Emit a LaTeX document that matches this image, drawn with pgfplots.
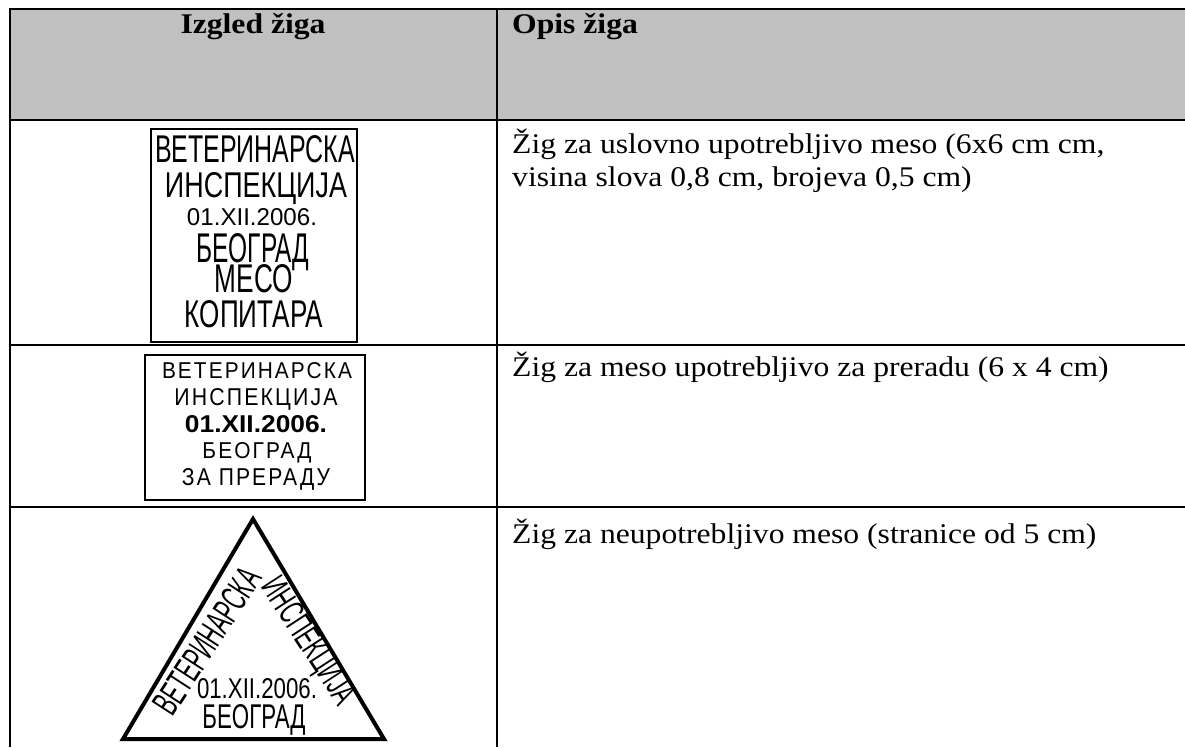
\documentclass[border=0pt]{standalone}
\usepackage{fontspec}
\setmainfont{Liberation Serif}
\newfontfamily\stampfont{Liberation Sans}
\newfontfamily\stampwide[LetterSpace=10]{Liberation Sans}
\usepackage{pgfplots}
\pgfplotsset{compat=1.18}
\definecolor{hdr}{HTML}{C0C0C0}
\newcommand{\stn}[3]{\resizebox{#1pt}{#2pt}{\stampfont #3}}
\newcommand{\stw}[3]{\resizebox{#1pt}{#2pt}{\stampwide #3}}
\newcommand{\stb}[3]{\resizebox{#1pt}{#2pt}{\stampfont\bfseries #3}}
\newcommand{\bt}[1]{\scalebox{1.11}[1]{\fontsize{28.5}{33}\selectfont #1}}
\begin{document}
\begin{tikzpicture}
\begin{axis}[
  scale only axis, width=1185pt, height=747pt,
  xmin=0, xmax=1185, ymin=0, ymax=747, y dir=reverse,
  hide axis, clip=true]
% full frame (invisible) so that the picture spans the whole area
\addplot[draw=none, forget plot] coordinates {(0,0) (1185,747)};
% header background
\addplot[fill=hdr, draw=none] coordinates {(10,9) (1185,9) (1185,120) (10,120)} -- cycle;
% table rules
\addplot[black, line width=2.7pt] coordinates {(8.65,9) (1185,9)};
\addplot[black, line width=2.7pt] coordinates {(10,9) (10,747)};
\addplot[black, line width=2.6pt] coordinates {(10,120) (1185,120)};
\addplot[black, line width=2.6pt] coordinates {(10,345) (1185,345)};
\addplot[black, line width=2.6pt] coordinates {(10,507) (1185,507)};
\addplot[black, line width=2.6pt] coordinates {(497,9) (497,747)};
% stamp boxes
\addplot[black, line width=2.8pt] coordinates {(151,129) (357,129) (357,342) (151,342)} -- cycle;
\addplot[black, line width=2.8pt] coordinates {(145,355) (365,355) (365,500) (145,500)} -- cycle;
% triangle
\addplot[black, line width=4pt, line join=miter] coordinates {(253,519) (384,739) (123,739)} -- cycle;

% header text
\node[anchor=base, inner sep=0] at (axis cs:253,33) {\bt{\bfseries Izgled žiga}};
\node[anchor=base west, inner sep=0] at (axis cs:512,33) {\bt{\bfseries Opis žiga}};
% descriptions
\node[anchor=base west, inner sep=0] at (axis cs:512,153) {\bt{Žig za uslovno upotrebljivo meso (6x6 cm cm,}};
\node[anchor=base west, inner sep=0] at (axis cs:512,186) {\bt{visina slova 0,8 cm, brojeva 0,5 cm)}};
\node[anchor=base west, inner sep=0] at (axis cs:512,376) {\bt{Žig za meso upotrebljivo za preradu (6 x 4 cm)}};
\node[anchor=base west, inner sep=0] at (axis cs:512,543) {\bt{Žig za neupotrebljivo meso (stranice od 5 cm)}};

% stamp 1
\node[anchor=base, inner sep=0] at (axis cs:255,162) {\stn{200}{27}{ВЕТЕРИНАРСКА}};
\node[anchor=base, inner sep=0] at (axis cs:256,197) {\stn{182}{25}{ИНСПЕКЦИЈА}};
\node[anchor=base, inner sep=0] at (axis cs:252,225) {\stn{130}{17}{01.XII.2006.}};
\node[anchor=base, inner sep=0] at (axis cs:253,262) {\stn{113}{29}{БЕОГРАД}};
\node[anchor=base, inner sep=0] at (axis cs:254,292) {\stn{78}{28}{МЕСО}};
\node[anchor=base, inner sep=0] at (axis cs:254,327) {\stn{138}{27}{КОПИТАРА}};

% stamp 2
\node[anchor=base, inner sep=0] at (axis cs:257,378) {\stw{190}{16}{ВЕТЕРИНАРСКА}};
\node[anchor=base, inner sep=0] at (axis cs:256,405) {\stw{163}{17}{ИНСПЕКЦИЈА}};
\node[anchor=base, inner sep=0] at (axis cs:256,432) {\stb{142}{17}{01.XII.2006.}};
\node[anchor=base, inner sep=0] at (axis cs:257,458) {\stw{109}{16}{БЕОГРАД}};
\node[anchor=base, inner sep=0] at (axis cs:256,485) {\stw{148}{17}{ЗА ПРЕРАДУ}};

% triangle stamp
\node[anchor=center, inner sep=0, rotate=57] at (axis cs:207,641) {\stn{166}{26}{ВЕТЕРИНАРСКА}};
\node[anchor=center, inner sep=0, rotate=-57] at (axis cs:307,642) {\stn{144}{25}{ИНСПЕКЦИЈА}};
\node[anchor=base, inner sep=0] at (axis cs:257,698) {\stn{120}{20}{01.XII.2006.}};
\node[anchor=base, inner sep=0] at (axis cs:254,728) {\stn{103}{24}{БЕОГРАД}};
\end{axis}
\end{tikzpicture}
\end{document}
